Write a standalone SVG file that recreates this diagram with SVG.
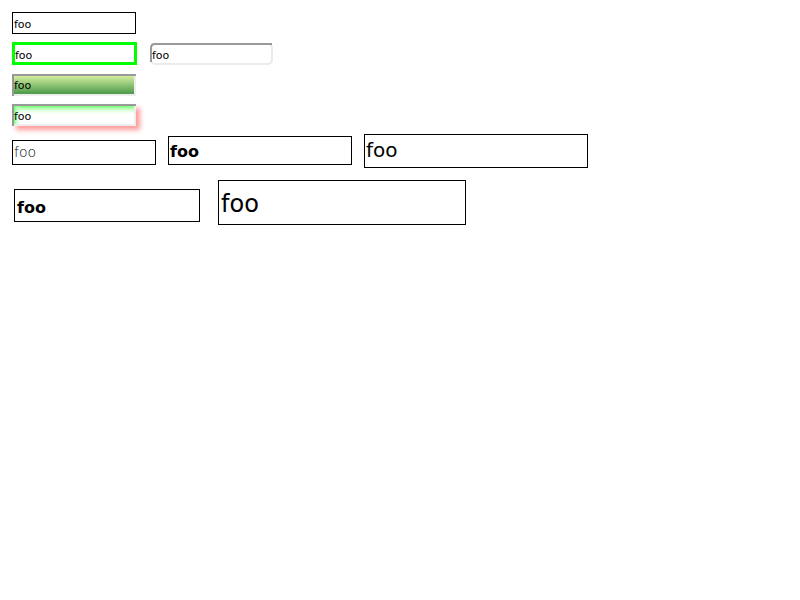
<svg xmlns="http://www.w3.org/2000/svg" width="800" height="600" viewBox="0 0 800 600">
<style>
text{font-family:"DejaVu Sans",Verdana,sans-serif;fill:#000}
.b1{fill:#fff;stroke:#000;stroke-width:1}
.s{font-size:11px}
.bold{font-weight:bold}
</style>
<defs>
<linearGradient id="g4" x1="0" y1="0" x2="0" y2="1">
<stop offset="0" stop-color="#d3ec9e"/>
<stop offset="1" stop-color="#4a9a4a"/>
</linearGradient>
<linearGradient id="g5t" x1="0" y1="0" x2="0" y2="1">
<stop offset="0" stop-color="#70ff70"/>
<stop offset="0.5" stop-color="#fff" stop-opacity="0"/>
</linearGradient>
<linearGradient id="g5l" x1="0" y1="0" x2="1" y2="0">
<stop offset="0" stop-color="#70ff70"/>
<stop offset="0.06" stop-color="#fff" stop-opacity="0"/>
</linearGradient>
<filter id="sh" x="-20%" y="-50%" width="140%" height="200%">
<feGaussianBlur stdDeviation="2.5"/>
</filter>
</defs>
<g id="input1">
<rect class="b1" x="12.5" y="12.5" width="123" height="21"/>
<text class="s" x="14" y="28">foo</text>
</g>
<g id="input2">
<rect x="13.5" y="43.5" width="122" height="20" fill="#fff" stroke="#00ff00" stroke-width="3"/>
<text class="s" x="15" y="59">foo</text>
</g>
<g id="input3">
<rect x="151" y="44" width="121" height="20" rx="4" fill="#fff" stroke="#ebebeb" stroke-width="2"/>
<path d="M151 62 V48 Q151 44 155 44 H272" fill="none" stroke="#999" stroke-width="2"/>
<text class="s" x="152" y="59">foo</text>
</g>
<g id="input4">
<rect x="12" y="74" width="124" height="22" fill="#eee"/>
<path d="M12 74 H136 V76 H14 V96 H12 Z" fill="#999"/>
<rect x="14" y="76" width="120" height="18" fill="url(#g4)"/>
<text class="s" x="14" y="89">foo</text>
</g>
<g id="input5">
<rect x="16" y="108" width="124" height="22" fill="#ff8080" opacity="0.8" filter="url(#sh)"/>
<rect x="12" y="104" width="124" height="22" fill="#eee"/>
<path d="M12 104 H136 V106 H14 V126 H12 Z" fill="#999"/>
<rect x="14" y="106" width="120" height="18" fill="#fff"/>
<rect x="14" y="106" width="120" height="18" fill="url(#g5t)"/>
<rect x="14" y="106" width="120" height="18" fill="url(#g5l)"/>
<text class="s" x="14" y="120">foo</text>
</g>
<g id="input6">
<rect class="b1" x="12.5" y="140.5" width="143" height="24"/>
<text x="14" y="157" font-size="14" font-weight="200">foo</text>
</g>
<g id="input7">
<rect class="b1" x="168.5" y="136.5" width="183" height="28"/>
<text class="bold" x="170" y="157" font-size="16">foo</text>
</g>
<g id="input8">
<rect class="b1" x="364.5" y="134.5" width="223" height="33"/>
<text x="366" y="157" font-size="20">foo</text>
</g>
<g id="input9">
<rect class="b1" x="14.5" y="189.5" width="185" height="32"/>
<text class="bold" x="17" y="213" font-size="16">foo</text>
</g>
<g id="input10">
<rect class="b1" x="218.5" y="180.5" width="247" height="44"/>
<text x="221" y="212" font-size="24">foo</text>
</g>
</svg>
